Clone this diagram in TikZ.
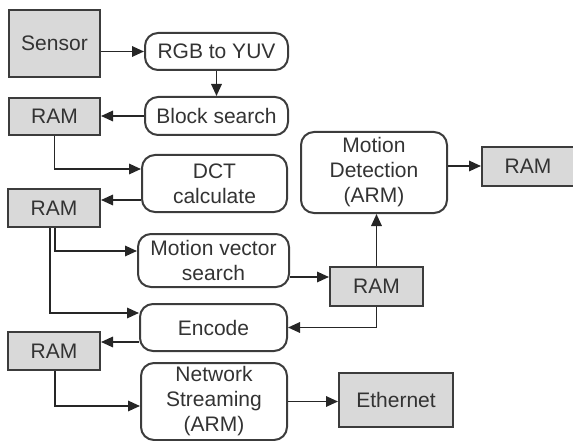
\documentclass[tikz,border=0pt]{standalone}
\usepackage{fontspec}
\setmainfont{Liberation Sans}
\usetikzlibrary{arrows.meta}
\definecolor{boxfill}{HTML}{D9D9D9}
\definecolor{edge}{HTML}{3C3C3C}
\definecolor{wire}{HTML}{262626}
\definecolor{ink}{HTML}{333333}
\begin{document}
\begin{tikzpicture}[x=1pt,y=-1pt,
  base/.style={draw=edge, line width=2pt, text=ink, inner sep=0pt, align=center,
    font=\fontsize{21}{25}\selectfont},
  membox/.style={base, fill=boxfill},
  proc/.style={base, fill=white, rounded corners=13pt},
  arr/.style={draw=wire, line width=1.7pt, -{Triangle[length=12pt,width=10.5pt]}}]
\useasboundingbox (0,0) rectangle (573,441);

% memory and I/O blocks
\node[membox, minimum width=91pt, minimum height=67pt] (sensor) at (54.5,43.5) {Sensor};
\node[membox, minimum width=91pt, minimum height=37pt] (ram1) at (54.5,116.5) {RAM};
\node[membox, minimum width=92pt, minimum height=38pt] (ram2) at (54,208) {RAM};
\node[membox, minimum width=92pt, minimum height=38pt] (ram3) at (54,351) {RAM};
\node[membox, minimum width=93pt, minimum height=39pt] (ramM) at (376.5,286.5) {RAM};
\node[membox, minimum width=92pt, minimum height=39pt] (ramR) at (528,166.5) {RAM};
\node[membox, minimum width=114pt, minimum height=54pt] (eth) at (396,400) {Ethernet};

% processing stages
\node[proc, minimum width=143pt, minimum height=37pt] (rgb) at (216.5,51.5) {RGB to YUV};
\node[proc, minimum width=143pt, minimum height=38pt] (block) at (216.5,116) {Block search};
\node[proc, minimum width=145pt, minimum height=57pt] (dct) at (214.5,183.5) {DCT\\calculate};
\node[proc, minimum width=151pt, minimum height=53pt] (mvs) at (213.5,260.5) {Motion vector\\search};
\node[proc, minimum width=147pt, minimum height=47pt] (enc) at (213.5,327.5) {Encode};
\node[proc, minimum width=146pt, minimum height=77pt] (ns) at (214,401.5) {Network\\Streaming\\(ARM)};
\node[proc, minimum width=146pt, minimum height=81pt] (md) at (374,172.5) {Motion\\Detection\\(ARM)};

% connectors
\draw[arr] (sensor.east |- rgb.west) -- (rgb.west);
\draw[arr] (rgb.south) -- (block.north);
\draw[arr] (block.west) -- (block.west -| ram1.east);
\draw[arr] (ram1.south) |- ([yshift=14.5pt]dct.west);
\coordinate (d1) at ([yshift=-16.5pt]dct.west);
\draw[arr] (d1) -- (d1 -| ram2.east);
\draw[arr] ([xshift=1pt]ram2.south) |- ([yshift=9.5pt]mvs.west);
\draw[arr] ([xshift=-4pt]ram2.south) |- ([yshift=14.5pt]enc.west);
\coordinate (e1) at ([yshift=-14.5pt]enc.west);
\draw[arr] (e1) -- (e1 -| ram3.east);
\draw[arr] ([xshift=1pt]ram3.south) |- ([yshift=-4.5pt]ns.west);
\coordinate (m1) at ([yshift=-16.5pt]mvs.east);
\draw[arr] (m1) -- (m1 -| ramM.west);
\draw[arr] (ramM.north) -- (ramM.north |- md.south);
\draw[arr] (ramM.south) |- (enc.east);
\coordinate (k1) at ([yshift=6.5pt]md.east);
\draw[arr] (k1) -- (k1 -| ramR.west);
\draw[arr] (ns.east) -- (ns.east -| eth.west);
\end{tikzpicture}
\end{document}
